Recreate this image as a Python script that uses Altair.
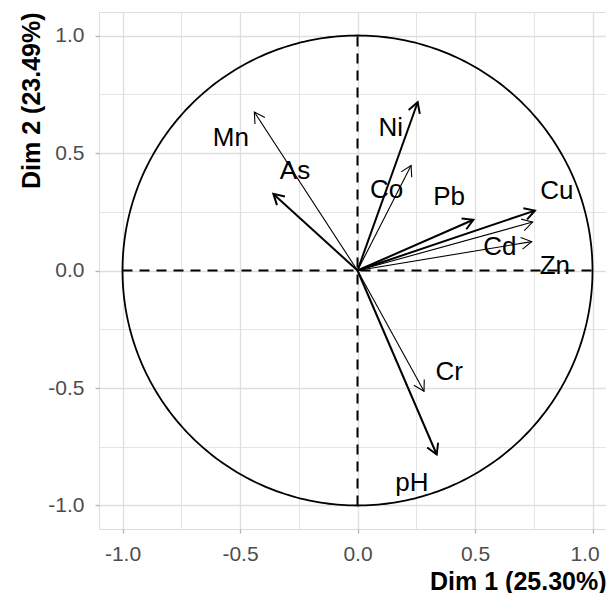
import altair as alt
import numpy as np
import pandas as pd

# ---- data ----
variables = ["Mn", "As", "Ni", "Co", "Pb", "Cu", "Cd", "Zn", "Cr", "pH"]
dim1 = [-0.439, -0.358, 0.256, 0.228, 0.493, 0.755, 0.745, 0.741, 0.283, 0.337]
dim2 = [0.674, 0.326, 0.716, 0.447, 0.216, 0.255, 0.206, 0.123, -0.514, -0.783]
label_x = [-0.539, -0.266, 0.142, 0.124, 0.390, 0.848, 0.606, 0.840, 0.390, 0.231]
label_y = [0.564, 0.422, 0.606, 0.343, 0.312, 0.340, 0.099, 0.018, -0.433, -0.906]
thick_vars = ["As", "Ni", "Pb", "Cu", "pH"]

tick_values = [-1.0, -0.75, -0.5, -0.25, 0.0, 0.25, 0.5, 0.75, 1.0]
x_title = "Dim 1 (25.30%)"
y_title = "Dim 2 (23.49%)"

# ---- tables (all layers share field names x, y, x2, y2) ----
arrows = pd.DataFrame({"var": variables, "x": 0.0, "y": 0.0, "x2": dim1, "y2": dim2})
arrows["w"] = [2.0 if v in thick_vars else 1.1 for v in variables]
heads = pd.DataFrame({"x": dim1, "y": dim2, "w": arrows["w"]})
heads["angle"] = (np.degrees(np.arctan2(heads["x"], heads["y"])) % 360).round(2)
texts = pd.DataFrame({"var": variables, "x": label_x, "y": label_y})

theta = np.linspace(0, 2 * np.pi, 361)
circle = pd.DataFrame({"x": np.cos(theta), "y": np.sin(theta), "o": np.arange(361)})
cross = pd.DataFrame({"x": [-1.0, 0.0], "x2": [1.0, 0.0], "y": [0.0, -1.0], "y2": [0.0, 1.0]})

FONT = "Liberation Sans"
XDOM = [-1.1, 1.0574]
YDOM = [-1.1, 1.1]
W, H = 507, 517
minor_test = "abs(datum.value % 0.5) > 0.01"
label_expr = ("abs(datum.value % 0.5) > 0.01 ? '' : "
              "(datum.value < 0 ? '-' : '') + format(abs(datum.value), '.1f')")


def make_axis(title, **kw):
    return alt.Axis(
        values=tick_values, grid=True, gridColor="#DEDEDE",
        gridWidth={"condition": {"test": minor_test, "value": 0.8}, "value": 1.3},
        domain=False, tickColor="#B3B3B3", tickSize=4, tickWidth=1.3,
        tickOpacity={"condition": {"test": minor_test, "value": 0}, "value": 1},
        labelExpr=label_expr, labelFont=FONT, labelFontSize=21, labelColor="#4D4D4D",
        labelOverlap=False, labelFlush=False,
        title=title, titleFont=FONT, titleFontSize=25, titleFontWeight="bold",
        titleColor="black", **kw)


xaxis = make_axis(x_title, labelPadding=10, titleAlign="right", titleBaseline="alphabetic",
                  titleX=W, titleY=60, titleAngle=0,
                  labelOffset={"condition": {"test": "datum.value > 0.99", "value": -8},
                               "value": 0})
yaxis = make_axis(y_title, labelPadding=11, titleAlign="right", titleBaseline="alphabetic",
                  titleX=-59.5, titleY=0, titleAngle=270)

xs = alt.Scale(domain=XDOM, nice=False, zero=False)
ys = alt.Scale(domain=YDOM, nice=False, zero=False)
X = alt.X("x:Q", scale=xs, axis=xaxis, title=x_title)
Y = alt.Y("y:Q", scale=ys, axis=yaxis, title=y_title)

circle_layer = alt.Chart(circle).mark_line(color="black", strokeWidth=1.8).encode(
    x=X, y=Y, order="o:Q")

cross_layer = alt.Chart(cross).mark_rule(color="black", strokeWidth=2, strokeDash=[10, 7]).encode(
    x=X, x2="x2:Q", y=Y, y2="y2:Q")

arrow_lines = alt.Chart(arrows).mark_rule(color="black").encode(
    x=X, x2="x2:Q", y=Y, y2="y2:Q",
    strokeWidth=alt.StrokeWidth("w:Q", scale=None))

arrow_heads = alt.Chart(heads).mark_point(
    shape="M -0.5 0.866 L 0 0 L 0.5 0.866", filled=False, stroke="black",
    size=560, opacity=1,
).encode(
    x=X, y=Y,
    angle=alt.Angle("angle:Q", scale=None),
    strokeWidth=alt.StrokeWidth("w:Q", scale=None))

labels = alt.Chart(texts).mark_text(font=FONT, fontSize=26, color="black",
                                    align="center", baseline="middle").encode(
    x=X, y=Y, text="var:N")

chart = alt.layer(circle_layer, cross_layer, arrow_lines, arrow_heads, labels).properties(
    width=W, height=H,
    autosize=alt.AutoSizeParams(type="none"),
    padding={"left": 91, "top": 4, "right": 0, "bottom": 64},
).configure_view(stroke="#B3B3B3", strokeWidth=1.3).configure(background="white")

chart.save("out.html", embed_options={"renderer": "svg", "actions": False})
